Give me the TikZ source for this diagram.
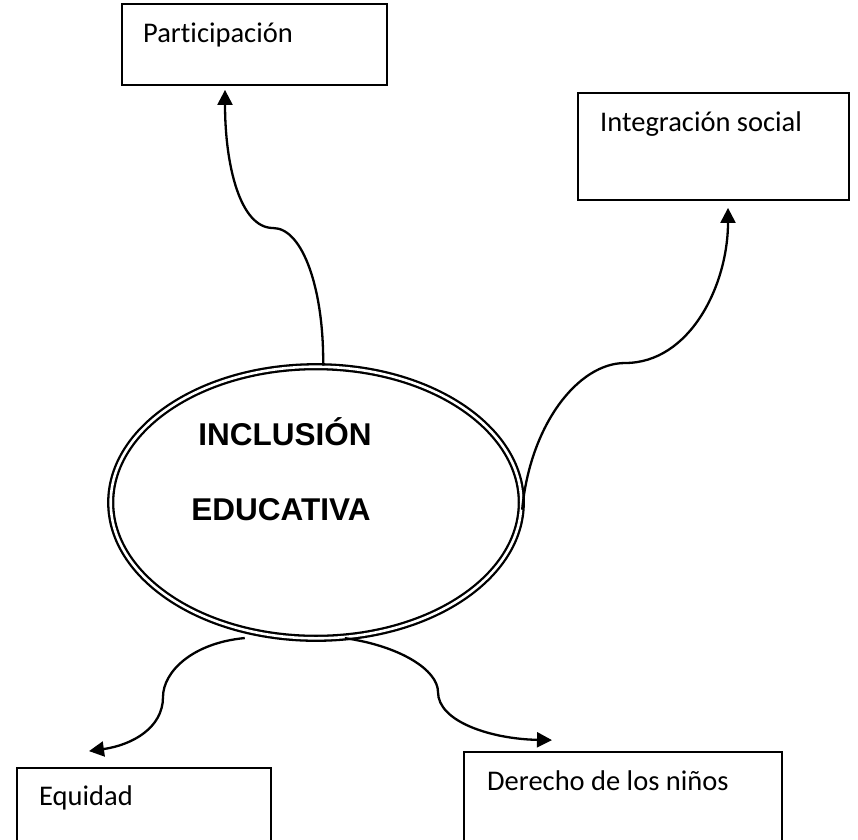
\documentclass[tikz,border=0pt]{standalone}
\usepackage{fontspec}
\setmainfont{Carlito}[Ligatures=NoCommon]
\newfontfamily\arialfont{Liberation Sans}
\usetikzlibrary{shapes.geometric,arrows.meta,calc}
\begin{document}
\begin{tikzpicture}[x=1pt,y=-1pt,
  box/.style={draw, line width=1.8pt, inner sep=0pt},
  lbl/.style={inner sep=0pt, font=\fontsize{28.5}{32}\selectfont, anchor=base west},
  big/.style={inner sep=0pt, font=\arialfont\bfseries\fontsize{31.5}{36}\selectfont, anchor=base},
  conn/.style={line width=2.3pt, -{Triangle[length=15pt,width=15pt]}},
  oval/.style={ellipse, draw, double, double distance=2.6pt, line width=2.3pt, inner sep=0pt,
               minimum width=410.6pt, minimum height=271.6pt}
]
\useasboundingbox (0,0) rectangle (858,839);
\clip (0,0) rectangle (858,839);

% boxes
\node[box, minimum width=265pt, minimum height=81pt] (p) at (254.5,44.5) {};
\node[lbl] (pt) at (143,42) {Participación};

\node[box, minimum width=271pt, minimum height=107pt] (i) at (713.5,146.5) {};
\node[lbl] (it) at (600,131) {Integración social};

\node[box, minimum width=254pt, minimum height=120pt] (e) at (144,828) {};
\node[lbl] (et) at (39,805) {Equidad};

\node[box, minimum width=318pt, minimum height=130pt] (d) at (623,817) {};
\node[lbl] (dt) at (487,790) {Derecho de los niños};

% central ellipse
\node[oval] (ell) at (316,502.5) {};
\node[big] (t1) at (285,445) {INCLUSIÓN};
\node[big] (t2) at (281,520) {EDUCATIVA};

% connectors
\draw[conn] (ell.87) .. controls (324,290) and (303,228) .. (273,228)
            .. controls (240,228) and (225,165) .. ($(p.south)+(-29.5,4)$);

\draw[conn] (ell.-2) .. controls (530,425) and (578,363) .. (625,363)
            .. controls (690,363) and (728,285) .. ($(i.south)+(14.5,7)$);

\draw[conn] ($(ell.-119)+(0,7)$) .. controls (192,643) and (163,672) .. (163,697)
            .. controls (163,728) and (132,745) .. ($(e.north)+(-55,-16)$);

\draw[conn] (ell.-78) .. controls (400,646) and (438,670) .. (438,692)
            .. controls (438,722) and (492,739) .. ($(d.north)+(-71,-11)$);
\end{tikzpicture}
\end{document}
